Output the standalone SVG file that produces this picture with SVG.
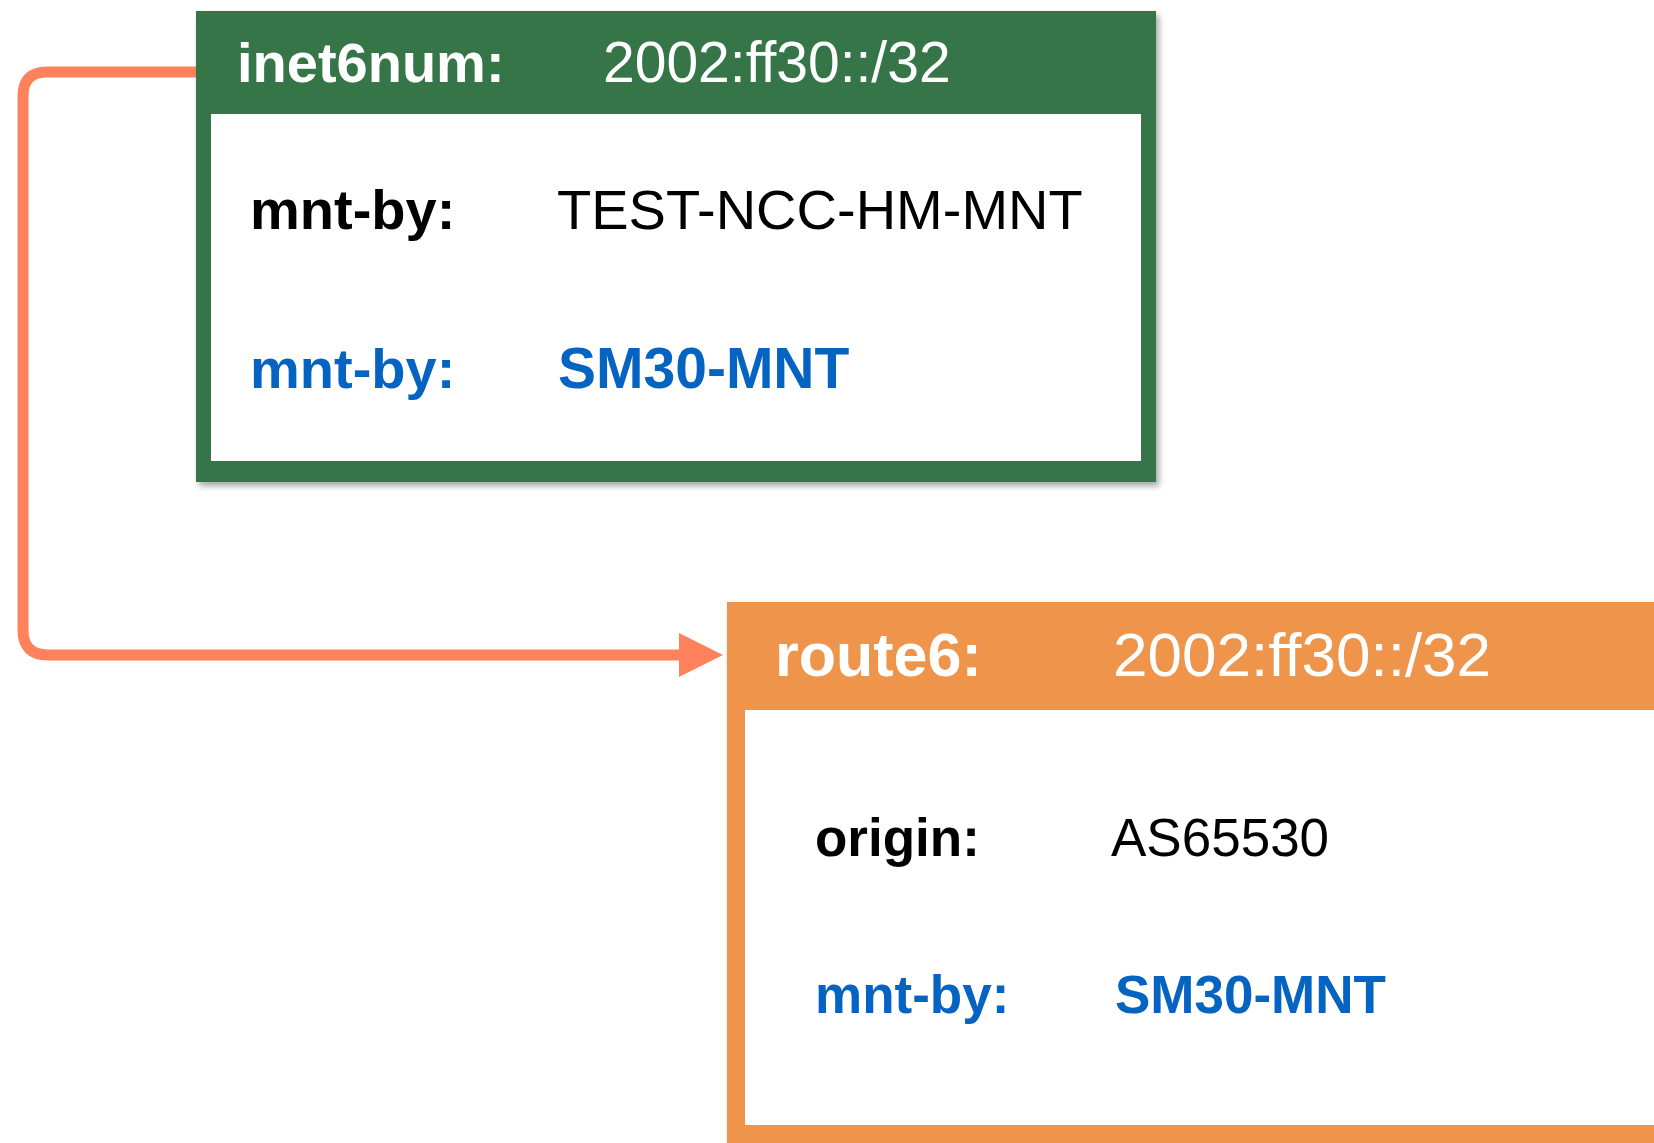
<svg xmlns="http://www.w3.org/2000/svg" width="1654" height="1143" viewBox="0 0 1654 1143">
  <defs>
    <style>
      text { font-family: "Liberation Sans", Arial, Helvetica, sans-serif; }
      .hdr { fill: #ffffff; }
      .b { font-weight: bold; }
      .blk { fill: #000000; }
      .blue { fill: #0563C1; font-weight: bold; }
      .conn { fill: none; stroke: #FF825C; stroke-width: 11; }
    </style>
    <filter id="shadow" x="-5%" y="-5%" width="110%" height="115%">
      <feDropShadow dx="3" dy="4" stdDeviation="3" flood-color="#000" flood-opacity="0.35"/>
    </filter>
    <marker id="arrow" markerUnits="userSpaceOnUse" markerWidth="46" markerHeight="46" refX="0" refY="22" orient="auto">
      <polygon points="0,0 44,22 0,44" fill="#FF825C"/>
    </marker>
  </defs>
  <rect width="1654" height="1143" fill="#ffffff"/>

  <g id="connectors">
    <path class="conn" d="M196,72 H47 Q23,72 23,96 V630 Q23,655 48,655 H679" marker-end="url(#arrow)"/>
  </g>

  <g id="inet6num">
    <rect x="196" y="11" width="960" height="471" fill="#357446" filter="url(#shadow)"/>
    <rect x="211" y="114" width="930" height="347" fill="#ffffff"/>
    <text class="hdr b" x="237" y="82" font-size="56">inet6num:</text>
    <text class="hdr" x="603" y="82" font-size="57">2002:ff30::/32</text>
    <text class="blk b" x="250" y="229" font-size="56">mnt-by:</text>
    <text class="blk" x="557" y="229" font-size="56">TEST-NCC-HM-MNT</text>
    <text class="blue" x="250" y="388" font-size="56">mnt-by:</text>
    <text class="blue" x="558" y="388" font-size="57">SM30-MNT</text>
  </g>

  <g id="route6">
    <rect x="727" y="602" width="1000" height="600" fill="#EE944C" filter="url(#shadow)"/>
    <rect x="745" y="710" width="980" height="415" fill="#ffffff"/>
    <text class="hdr b" x="775" y="676" font-size="61">route6:</text>
    <text class="hdr" x="1113" y="676" font-size="62">2002:ff30::/32</text>
    <text class="blk b" x="815" y="856" font-size="53">origin:</text>
    <text class="blk" x="1111" y="856" font-size="53">AS65530</text>
    <text class="blue" x="815" y="1013" font-size="53">mnt-by:</text>
    <text class="blue" x="1115" y="1013" font-size="53">SM30-MNT</text>
  </g>
</svg>
